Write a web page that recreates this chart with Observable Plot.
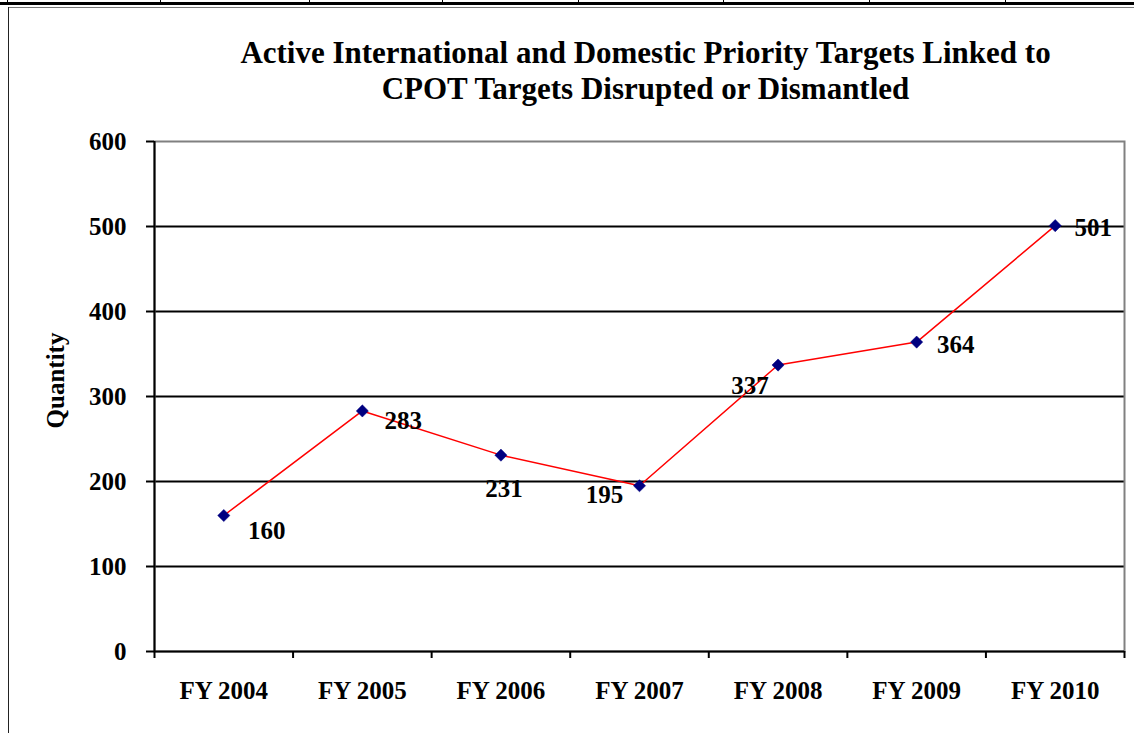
<!DOCTYPE html>
<html>
<head>
<meta charset="utf-8">
<script src="https://cdn.jsdelivr.net/npm/d3@7"></script>
<script src="https://cdn.jsdelivr.net/npm/@observablehq/plot@0.6"></script>
<style>
  html, body { margin: 0; padding: 0; background: #fff; }
  #wrap { position: relative; width: 1134px; height: 733px; overflow: hidden; }
  .deco { position: absolute; background: #000; }
  svg { position: absolute; left: 0; top: 0; }
</style>
</head>
<body>
<div id="wrap"></div>
<script>
const categories = ["FY 2004", "FY 2005", "FY 2006", "FY 2007", "FY 2008", "FY 2009", "FY 2010"];
const values = [160, 283, 231, 195, 337, 364, 501];
const yTicks = [0, 100, 200, 300, 400, 500, 600];
const titleLines = ["Active International and Domestic Priority Targets Linked to", "CPOT Targets Disrupted or Dismantled"];
const yLabel = "Quantity";
// label offsets (pixels) relative to each point
const labelOffsets = [[43, 15], [41, 10], [3, 34], [-35, 9], [-28, 21], [39, 3], [38, 2]];

const data = categories.map((c, i) => ({cat: c, i: i + 0.5, v: values[i]}));
const font = "Liberation Serif, Times New Roman, serif";
const fs = 25;

const marks = [
  Plot.ruleY(yTicks.filter(d => d > 0 && d < 600), {stroke: "#000", strokeWidth: 2}),
  Plot.frame({stroke: "#808080", strokeWidth: 2}),
  Plot.axisY({ticks: yTicks, label: null, tickSize: 8, tickPadding: 20, fontSize: fs, fontWeight: "bold", fontFamily: font, strokeWidth: 2, tickFormat: d => String(d)}),
  Plot.axisX({ticks: d3.range(categories.length + 1), label: null, tickSize: 7, tickFormat: () => "", strokeWidth: 2}),
  Plot.axisX({ticks: data.map(d => d.i), label: null, tickSize: 0, tickPadding: 30, fontSize: fs, fontWeight: "bold", fontFamily: font, tickFormat: d => categories[Math.floor(d)]}),
  Plot.ruleY([0], {stroke: "#000", strokeWidth: 2}),
  Plot.ruleX([0], {stroke: "#000", strokeWidth: 2}),
  Plot.line(data, {x: "i", y: "v", stroke: "#ff0000", strokeWidth: 1.5}),
  Plot.dot(data, {x: "i", y: "v", symbol: "diamond2", r: 5.5, fill: "#000080", stroke: "#000080", strokeWidth: 0.5}),
  ...data.map((d, k) => Plot.text([d], {x: "i", y: "v", text: e => String(e.v), dx: labelOffsets[k][0], dy: labelOffsets[k][1], fontSize: fs, fontWeight: "bold", fontFamily: font, fill: "#000"})),
  Plot.text([titleLines[0]], {frameAnchor: "top", text: d => d, dx: 6, dy: -88, fontSize: 31, fontWeight: "bold", fontFamily: font, fill: "#000", lineAnchor: "middle"}),
  Plot.text([titleLines[1]], {frameAnchor: "top", text: d => d, dx: 6, dy: -52, fontSize: 31, fontWeight: "bold", fontFamily: font, fill: "#000", lineAnchor: "middle"}),
  Plot.text([yLabel], {frameAnchor: "left", textAnchor: "middle", text: d => d, rotate: -90, dx: -99, dy: -16, fontSize: fs, fontWeight: "bold", fontFamily: font, fill: "#000"})
];

const chart = Plot.plot({
  width: 1134,
  height: 733,
  marginTop: 141,
  marginBottom: 82,
  marginLeft: 154,
  marginRight: 10,
  style: {fontFamily: font, fontSize: fs + "px", fontWeight: "bold", color: "#000", background: "transparent"},
  x: {domain: [0, categories.length], axis: null, label: null},
  y: {domain: [0, 600], axis: null, label: null},
  marks
});

const wrap = document.getElementById("wrap");
// decorative surrounding table/frame lines
function deco(l, t, w, h, c) {
  const d = document.createElement("div");
  d.className = "deco";
  Object.assign(d.style, {left: l + "px", top: t + "px", width: w + "px", height: h + "px", background: c || "#000"});
  wrap.appendChild(d);
}
deco(0, 2, 1134, 3);
[7, 160, 309, 442, 578, 723, 869, 1005].forEach(x => deco(x, 0, 1, 5));
deco(8, 7, 1126, 1, "#777");
deco(8, 7, 1, 726, "#222");
wrap.appendChild(chart);
</script>
</body>
</html>
